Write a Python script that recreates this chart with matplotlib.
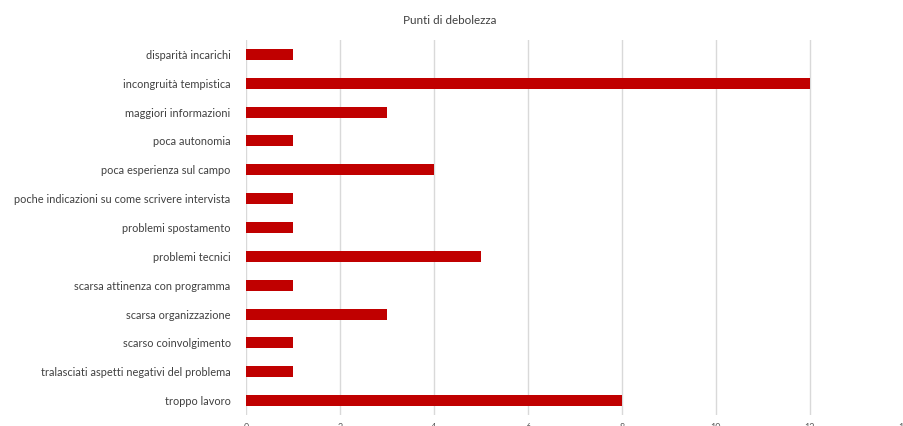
import matplotlib.pyplot as plt

# dati
categorie = [
    "disparità incarichi",
    "incongruità tempistica",
    "maggiori informazioni",
    "poca autonomia",
    "poca esperienza sul campo",
    "poche indicazioni su come scrivere intervista",
    "problemi spostamento",
    "problemi tecnici",
    "scarsa attinenza con programma",
    "scarsa organizzazione",
    "scarso coinvolgimento",
    "tralasciati aspetti negativi del problema",
    "troppo lavoro",
]
valori = [1, 12, 3, 1, 4, 1, 1, 5, 1, 3, 1, 1, 8]
x_ticks = [0, 2, 4, 6, 8, 10, 12, 14]

plt.rcParams['font.family'] = ['Lato', 'DejaVu Sans']

fig = plt.figure(figsize=(9.04, 4.26), dpi=100)
ax = fig.add_axes([246 / 904, 11 / 426, 1 - 246 / 904 - 0.0005, 375 / 426])

ax.barh(range(len(categorie)), valori, height=0.38, color='#C00000', zorder=3)

ax.set_ylim(len(categorie) - 0.5, -0.5)
ax.set_xlim(0, 14)
ax.set_yticks(range(len(categorie)))
ax.set_yticklabels(categorie, fontsize=7.9, color='#404040')
ax.set_xticks(x_ticks)
ax.set_xticklabels([str(t) for t in x_ticks], fontsize=6.5, color='#595959')
ax.tick_params(length=0, axis='both')
ax.tick_params(axis='y', pad=11)
ax.tick_params(axis='x', pad=6)

ax.grid(axis='x', color='#D9D9D9', linewidth=1, zorder=0)
for s in ax.spines.values():
    s.set_visible(False)

fig.text(0.497, 1 - 20 / 426, "Punti di debolezza", ha='center', va='center',
         fontsize=8.4, color='#404040')

fig.savefig('out.png', dpi=100)
